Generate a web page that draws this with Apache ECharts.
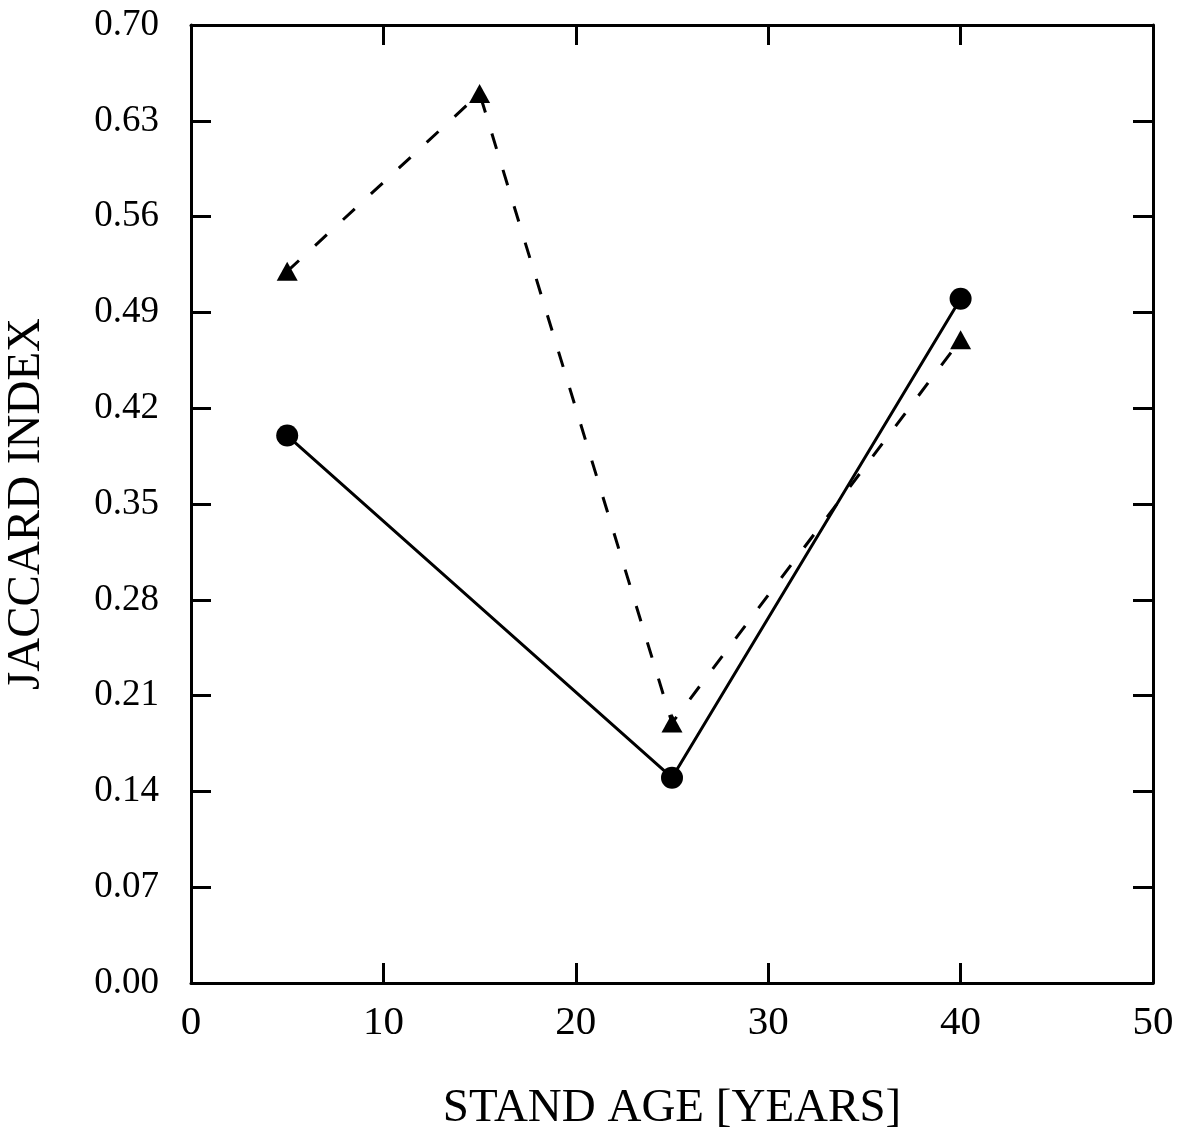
<!DOCTYPE html>
<html>
<head>
<meta charset="utf-8">
<script src="https://cdn.jsdelivr.net/npm/echarts@6/dist/echarts.min.js"></script>
<style>
  html, body { margin: 0; padding: 0; background: #fff; }
  #chart { width: 1189px; height: 1138px; }
</style>
</head>
<body>
<div id="chart"></div>
<script>
// Stand age (years) and Jaccard similarity for the two series
const circleAges = [5, 25, 40];
const circleValues = [0.40, 0.15, 0.50];
const triangleAges = [5, 15, 25, 40];
const triangleValues = [0.52, 0.65, 0.19, 0.47];

const xTitle = 'STAND AGE [YEARS]';
const yTitle = 'JACCARD INDEX';

const FONT = '"Liberation Serif", "Times New Roman", serif';
const INK = '#000';

function pairs(xs, ys) { return xs.map((x, i) => [x, ys[i]]); }

const frameLine = { show: true, onZero: false, lineStyle: { color: INK, width: 3 } };
const inTicks = { show: true, inside: true, length: 20, lineStyle: { color: INK, width: 3 } };

const chart = echarts.init(document.getElementById('chart'), null, { renderer: 'canvas' });
chart.setOption({
  backgroundColor: '#fff',
  animation: false,
  grid: {
    left: 191, right: 36, top: 25, bottom: 155,
    containLabel: false, outerBoundsMode: 'none'
  },
  xAxis: [
    {
      type: 'value', position: 'bottom', min: 0, max: 50, interval: 10,
      axisLine: frameLine, axisTick: inTicks, splitLine: { show: false },
      axisLabel: { color: INK, fontFamily: FONT, fontSize: 41, margin: 20 },
      name: xTitle, nameLocation: 'middle', nameGap: 102,
      nameTextStyle: { color: INK, fontFamily: FONT, fontSize: 47 }
    },
    {
      type: 'value', position: 'top', min: 0, max: 50, interval: 10,
      axisLine: frameLine, axisTick: inTicks, splitLine: { show: false },
      axisLabel: { show: false }
    }
  ],
  yAxis: [
    {
      type: 'value', position: 'left', min: 0, max: 0.7, interval: 0.07,
      axisLine: frameLine, axisTick: inTicks, splitLine: { show: false },
      axisLabel: {
        color: INK, fontFamily: FONT, fontSize: 37, margin: 32,
        formatter: v => v.toFixed(2)
      },
      name: yTitle, nameLocation: 'middle', nameGap: 141, nameRotate: 90,
      nameTextStyle: { color: INK, fontFamily: FONT, fontSize: 47 }
    },
    {
      type: 'value', position: 'right', min: 0, max: 0.7, interval: 0.07,
      axisLine: frameLine, axisTick: inTicks, splitLine: { show: false },
      axisLabel: { show: false }
    }
  ],
  series: [
    {
      type: 'line', xAxisIndex: 0, yAxisIndex: 0,
      data: pairs(triangleAges, triangleValues),
      symbol: 'triangle', symbolSize: [21, 19],
      itemStyle: { color: INK },
      lineStyle: { color: INK, width: 3, type: [16, 22] },
      z: 3
    },
    {
      type: 'line', xAxisIndex: 0, yAxisIndex: 0,
      data: pairs(circleAges, circleValues),
      symbol: 'circle', symbolSize: 22,
      itemStyle: { color: INK },
      lineStyle: { color: INK, width: 3, type: 'solid' },
      z: 4
    }
  ]
});
</script>
</body>
</html>
